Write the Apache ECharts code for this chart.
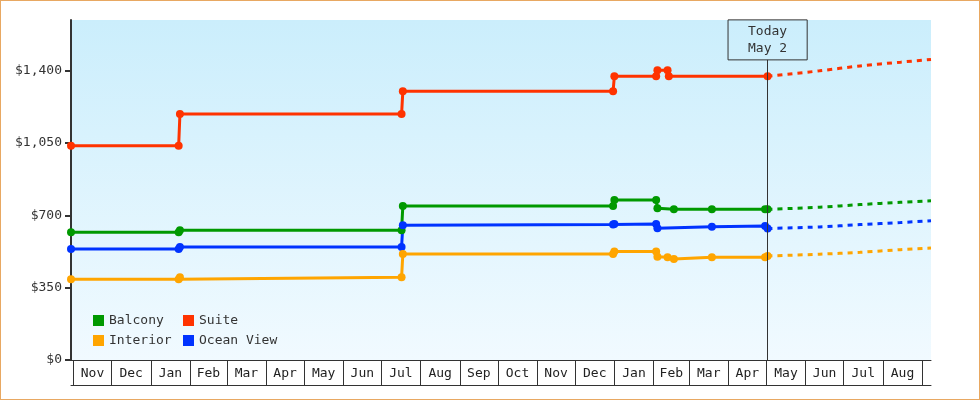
<!DOCTYPE html>
<html>
<head>
<meta charset="utf-8">
<title>Cabin prices</title>
<script src="https://cdn.jsdelivr.net/npm/echarts@6/dist/echarts.min.js"></script>
<style>
    html, body { margin: 0; padding: 0; background: #fff; }
    #wrap { position: relative; width: 980px; height: 400px; }
    #chart { position: absolute; left: 0; top: 0; width: 980px; height: 400px; }
    #frame { position: absolute; left: 0; top: 0; width: 980px; height: 400px; box-sizing: border-box;
             border: 1px solid #e8a862; pointer-events: none; }
</style>
</head>
<body>
<div id="wrap">
    <div id="chart"></div>
    <div id="frame"></div>
</div>
<script>
// month cells on the x axis
var monthStarts = ['2023-11-01', '2023-12-01', '2024-01-01', '2024-02-01', '2024-03-01', '2024-04-01',
    '2024-05-01', '2024-06-01', '2024-07-01', '2024-08-01', '2024-09-01', '2024-10-01', '2024-11-01',
    '2024-12-01', '2025-01-01', '2025-02-01', '2025-03-01', '2025-04-01', '2025-05-01', '2025-06-01',
    '2025-07-01', '2025-08-01', '2025-09-01'];
var monthLabels = ['Nov', 'Dec', 'Jan', 'Feb', 'Mar', 'Apr', 'May', 'Jun', 'Jul', 'Aug', 'Sep', 'Oct',
    'Nov', 'Dec', 'Jan', 'Feb', 'Mar', 'Apr', 'May', 'Jun', 'Jul', 'Aug'];
var yTicks = [0, 350, 700, 1050, 1400];

var xMin = '2023-10-30', xMax = '2025-09-08';
var today = '2025-05-02';
var todayLabel = 'Today\nMay 2';

// observed prices
var balcony = [['2023-10-30', 618], ['2024-01-23', 618], ['2024-01-24', 628], ['2024-07-17', 628],
    ['2024-07-18', 745], ['2024-12-31', 745], ['2025-01-01', 774], ['2025-02-03', 774], ['2025-02-04', 734],
    ['2025-02-17', 729], ['2025-03-19', 729], ['2025-04-30', 729], ['2025-05-02', 729]];
var suite = [['2023-10-30', 1036], ['2024-01-23', 1036], ['2024-01-24', 1190], ['2024-07-17', 1190],
    ['2024-07-18', 1300], ['2024-12-31', 1300], ['2025-01-01', 1373], ['2025-02-03', 1373], ['2025-02-04', 1402],
    ['2025-02-12', 1402], ['2025-02-13', 1373], ['2025-05-02', 1373]];
var interior = [['2023-10-30', 391], ['2024-01-23', 391], ['2024-01-24', 400], ['2024-07-17', 400],
    ['2024-07-18', 513], ['2024-12-31', 513], ['2025-01-01', 525], ['2025-02-03', 525], ['2025-02-04', 500],
    ['2025-02-12', 497], ['2025-02-17', 489], ['2025-03-19', 497], ['2025-04-30', 497], ['2025-05-02', 503]];
var oceanView = [['2023-10-30', 537], ['2024-01-23', 537], ['2024-01-24', 547], ['2024-07-17', 547],
    ['2024-07-18', 652], ['2024-12-31', 655], ['2025-01-01', 658], ['2025-02-03', 658], ['2025-02-04', 637],
    ['2025-03-19', 645], ['2025-04-30', 648], ['2025-05-02', 636]];

// forecast
var balconyForecast = [['2025-05-02', 729], ['2025-06-12', 739], ['2025-07-14', 752], ['2025-08-15', 763], ['2025-09-08', 770]];
var suiteForecast = [['2025-05-02', 1373], ['2025-06-12', 1399], ['2025-07-14', 1423], ['2025-08-15', 1441], ['2025-09-08', 1454]];
var interiorForecast = [['2025-05-02', 503], ['2025-06-12', 512], ['2025-07-14', 521], ['2025-08-15', 534], ['2025-09-08', 542]];
var oceanForecast = [['2025-05-02', 636], ['2025-06-12', 644], ['2025-07-14', 655], ['2025-08-15', 665], ['2025-09-08', 674]];

var colors = { 'Balcony': '#009900', 'Suite': '#ff3300', 'Interior': '#ffa500', 'Ocean View': '#0033ff' };
var FONT = 'DejaVu Sans Mono';

function ts(s) {
    return +new Date(s + 'T00:00:00');
}

function toPoints(rows) {
    return rows.map(function (r) { return [ts(r[0]), r[1]]; });
}

// tick at every month start, label in the middle of the cell
var tickValues = monthStarts.map(ts);
var labelValues = [], labelText = {};
for (var i = 0; i < monthLabels.length; i++) {
    var mid = Math.round((tickValues[i] + tickValues[i + 1]) / 2);
    labelValues.push(mid);
    labelText[mid] = monthLabels[i];
}

function priceLine(name, data) {
    return {
        name: name,
        type: 'line',
        data: toPoints(data),
        color: colors[name],
        symbol: 'circle',
        symbolSize: 8,
        showSymbol: true,
        lineStyle: { width: 3 },
        z: 3
    };
}

function forecastLine(name, data) {
    return {
        name: name + ' forecast',
        type: 'line',
        data: toPoints(data),
        color: colors[name],
        symbol: 'none',
        smooth: 0.3,
        lineStyle: { width: 3, type: [5, 5] },
        z: 2
    };
}

var legendBase = {
    orient: 'vertical',
    top: 314,
    padding: 0,
    icon: 'rect',
    itemWidth: 11,
    itemHeight: 11,
    itemGap: 7,
    textStyle: { fontFamily: FONT, fontSize: 13, color: '#333' }
};

var chart = echarts.init(document.getElementById('chart'));
var suiteSeries = priceLine('Suite', suite);
suiteSeries.markLine = {
    silent: true,
    symbol: 'none',
    lineStyle: { color: '#333', width: 1, type: 'solid' },
    label: {
        show: true,
        position: 'end',
        distance: 0,
        formatter: todayLabel,
        fontFamily: FONT,
        fontSize: 13,
        lineHeight: 17,
        color: '#333',
        padding: [3, 20, 3, 20],
        borderColor: '#333',
        borderWidth: 1
    },
    data: [[{ xAxis: ts(today), yAxis: 0 }, { xAxis: ts(today), yAxis: 1452 }]]
};

chart.setOption({
    animation: false,
    grid: {
        left: 71, right: 49, top: 20, bottom: 40,
        show: true,
        borderWidth: 0,
        backgroundColor: new echarts.graphic.LinearGradient(0, 0, 0, 1, [
            { offset: 0, color: '#cbeefc' },
            { offset: 1, color: '#f1faff' }
        ])
    },
    legend: [
        Object.assign({ left: 93, data: ['Balcony', 'Interior'] }, legendBase),
        Object.assign({ left: 183, data: ['Suite', 'Ocean View'] }, legendBase)
    ],
    xAxis: [{
        type: 'value',
        min: ts(xMin),
        max: ts(xMax),
        axisLine: { lineStyle: { color: '#333', width: 1 } },
        axisTick: { show: true, customValues: tickValues, length: 25, lineStyle: { color: '#333', width: 1 } },
        axisLabel: {
            customValues: labelValues,
            margin: 7,
            fontFamily: FONT,
            fontSize: 13,
            color: '#222',
            formatter: function (v) { return labelText[v] || ''; }
        },
        splitLine: { show: false }
    }, {
        type: 'value',
        min: ts(xMin),
        max: ts(xMax),
        position: 'bottom',
        offset: 25,
        axisLine: { show: true, lineStyle: { color: '#333', width: 1 } },
        axisTick: { show: false },
        axisLabel: { show: false },
        splitLine: { show: false }
    }],
    yAxis: {
        type: 'value',
        min: 0,
        max: 1645,
        axisLine: { show: true, lineStyle: { color: '#333', width: 2 } },
        axisTick: { show: true, customValues: yTicks, length: 6, lineStyle: { color: '#333', width: 2 } },
        axisLabel: {
            customValues: yTicks,
            margin: 9,
            fontFamily: FONT,
            fontSize: 13,
            color: '#333',
            formatter: function (v) { return '$' + v.toLocaleString('en-US'); }
        },
        splitLine: { show: false }
    },
    series: [
        forecastLine('Suite', suiteForecast),
        forecastLine('Balcony', balconyForecast),
        forecastLine('Ocean View', oceanForecast),
        forecastLine('Interior', interiorForecast),
        suiteSeries,
        priceLine('Balcony', balcony),
        priceLine('Ocean View', oceanView),
        priceLine('Interior', interior)
    ]
});
</script>
</body>
</html>
